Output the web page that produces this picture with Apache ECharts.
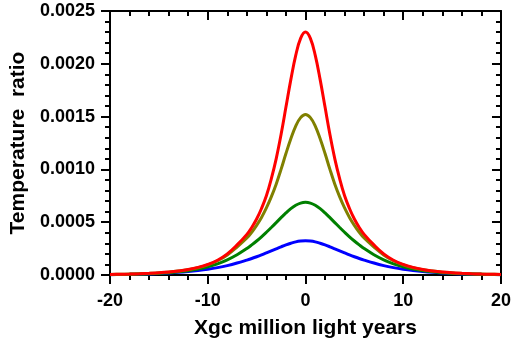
<!DOCTYPE html>
<html>
<head>
<meta charset="utf-8">
<script src="https://cdn.jsdelivr.net/npm/echarts@6/dist/echarts.min.js"></script>
<style>html,body{margin:0;padding:0;background:#fff;}#c{width:514px;height:347px;}</style>
</head>
<body>
<div id="c"></div>
<script>
var xValues = [-20,-19,-18,-17,-16,-15,-14,-13,-12,-11,-10,-9,-8,-7,-6,-5.5,-5,-4.5,-4,-3.5,-3,-2.5,-2,-1.5,-1,-0.5,0,0.5,1,1.5,2,2.5,3,3.5,4,4.5,5,5.5,6,7,8,9,10,11,12,13,14,15,16,17,18,19,20];
var redValues = [0.000005,0.000007,0.000009,0.000012,0.000016,0.000021,0.000028,0.000038,0.000052,0.000072,0.000100,0.000140,0.000200,0.000285,
  0.000385,0.000450,0.000530,0.000630,0.000750,0.000910,0.001100,0.001330,0.001590,0.001850,0.002080,0.002240,0.002300,0.002240,0.002080,0.001850,0.001590,0.001330,0.001100,0.000910,0.000750,0.000630,0.000530,0.000450,0.000385,
  0.000285,0.000200,0.000140,0.000100,0.000072,0.000052,0.000038,0.000028,0.000021,0.000016,0.000012,0.000009,0.000007,0.000005];
var oliveValues = [0.000005,0.0000065,0.0000085,0.000011,0.000015,0.000020,0.000027,0.000037,0.000050,0.000069,0.000096,0.000135,0.000190,0.000265,
  0.000350,0.000405,0.000470,0.000545,0.000635,0.000740,0.000860,0.001000,0.001150,0.001290,0.001410,0.001490,0.001520,0.001490,0.001410,0.001290,0.001150,0.001000,0.000860,0.000740,0.000635,0.000545,0.000470,0.000405,0.000350,
  0.000265,0.000190,0.000135,0.000096,0.000069,0.000050,0.000037,0.000027,0.000020,0.000015,0.000011,0.0000085,0.0000065,0.000005];
var greenValues = [0.0000035,0.000005,0.0000065,0.000009,0.000012,0.000016,0.000022,0.000030,0.000041,0.000056,0.000077,0.000106,0.000144,0.000192,
  0.000251,0.000285,0.000322,0.000362,0.000405,0.000450,0.000496,0.000543,0.000588,0.000628,0.000660,0.000681,0.000688,0.000681,0.000660,0.000628,0.000588,0.000543,0.000496,0.000450,0.000405,0.000362,0.000322,0.000285,0.000251,
  0.000192,0.000144,0.000106,0.000077,0.000056,0.000041,0.000030,0.000022,0.000016,0.000012,0.000009,0.0000065,0.000005,0.0000035];
var blueValues = [0.0000035,0.0000045,0.000006,0.000008,0.0000105,0.000014,0.000019,0.000025,0.000033,0.000043,0.000055,0.000070,0.000089,0.000113,
  0.000141,0.000156,0.000173,0.000191,0.000210,0.000229,0.000248,0.000267,0.000285,0.000301,0.000314,0.000322,0.000325,0.000322,0.000314,0.000301,0.000285,0.000267,0.000248,0.000229,0.000210,0.000191,0.000173,0.000156,0.000141,
  0.000113,0.000089,0.000070,0.000055,0.000043,0.000033,0.000025,0.000019,0.000014,0.0000105,0.000008,0.000006,0.0000045,0.0000035];
var xTitle = 'Xgc million light years';
var yTitle = 'Temperature  ratio';

function pairs(vals){ return xValues.map(function(x,i){ return [x, vals[i]]; }); }
var FONT = "'Liberation Sans', Arial, sans-serif";
var axisLine = {show:true, onZero:false, lineStyle:{color:'#000', width:2}};
function mk(color, vals){
  return {type:'line', data:pairs(vals), smooth:0.4, showSymbol:false, symbol:'none',
    lineStyle:{color:color, width:3}, itemStyle:{color:color}, animation:false};
}
var chart = echarts.init(document.getElementById('c'));
chart.setOption({
  animation:false,
  grid:{left:108, right:11, top:11, bottom:72, containLabel:false},
  xAxis:[{
    type:'value', min:-20, max:20, interval:10, position:'bottom',
    axisLine:axisLine,
    axisTick:{show:true, inside:false, length:9, lineStyle:{color:'#000', width:2}},
    minorTick:{show:true, splitNumber:5, length:5, lineStyle:{color:'#000', width:2}},
    splitLine:{show:false},
    axisLabel:{margin:17, color:'#000', fontSize:18, fontWeight:'bold', fontFamily:FONT},
    name:xTitle, nameLocation:'middle', nameGap:43,
    nameTextStyle:{color:'#000', fontSize:21, fontWeight:'bold', fontFamily:FONT}
  },{
    type:'value', min:-20, max:20, interval:10, position:'top',
    axisLine:axisLine,
    axisTick:{show:true, inside:true, length:9, lineStyle:{color:'#000', width:2}},
    minorTick:{show:true, splitNumber:5, length:5, lineStyle:{color:'#000', width:2}},
    splitLine:{show:false}, axisLabel:{show:false}
  }],
  yAxis:[{
    type:'value', min:0, max:0.0025, interval:0.0005, position:'left',
    axisLine:axisLine,
    axisTick:{show:true, inside:false, length:9, lineStyle:{color:'#000', width:2}},
    minorTick:{show:true, splitNumber:5, length:5, lineStyle:{color:'#000', width:2}},
    splitLine:{show:false},
    axisLabel:{margin:15, color:'#000', fontSize:18, fontWeight:'bold', fontFamily:FONT,
      formatter:function(v){ return v.toFixed(4); }},
    name:yTitle, nameLocation:'middle', nameGap:81,
    nameTextStyle:{color:'#000', fontSize:21, fontWeight:'bold', fontFamily:FONT}
  },{
    type:'value', min:0, max:0.0025, interval:0.0005, position:'right',
    axisLine:axisLine,
    axisTick:{show:true, inside:true, length:9, lineStyle:{color:'#000', width:2}},
    minorTick:{show:true, splitNumber:5, length:5, lineStyle:{color:'#000', width:2}},
    splitLine:{show:false}, axisLabel:{show:false}
  }],
  series:[
    mk('#0000ff', blueValues),
    mk('#008000', greenValues),
    mk('#808000', oliveValues),
    mk('#ff0000', redValues)
  ]
});
</script>
</body>
</html>
